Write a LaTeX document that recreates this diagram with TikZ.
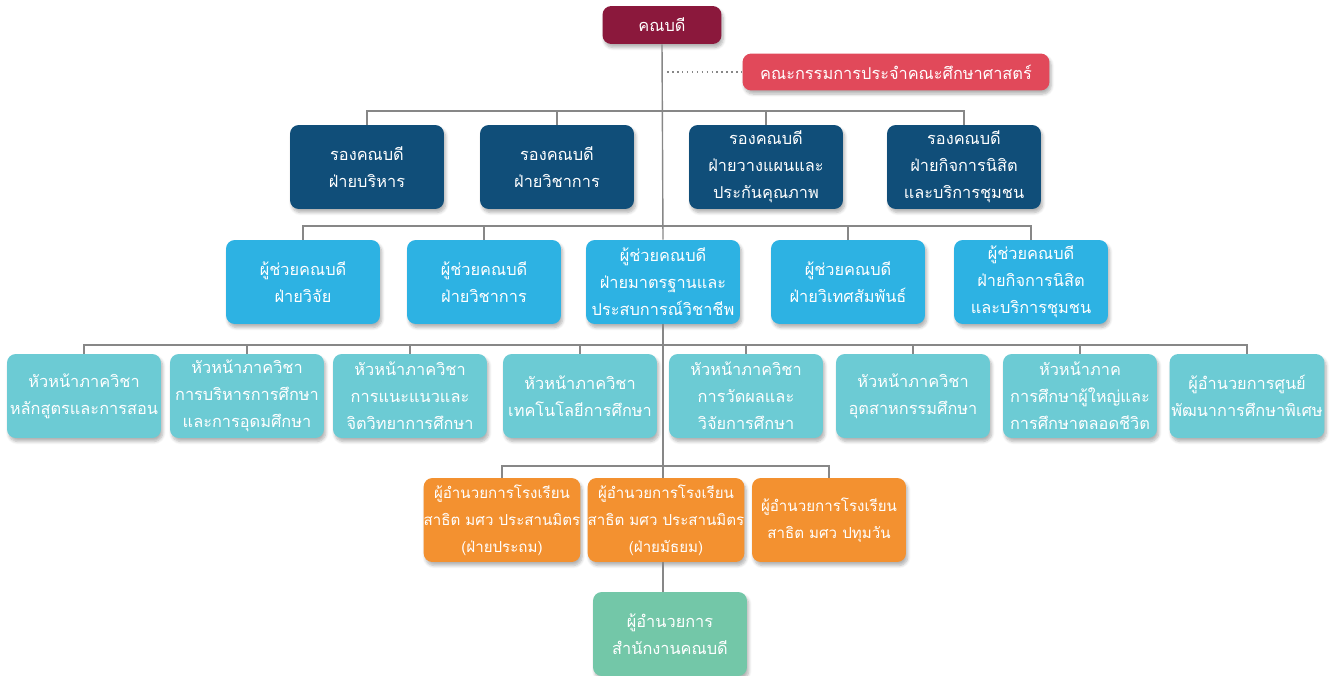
\documentclass[tikz,border=0pt]{standalone}
\usepackage{fontspec}
\newfontfamily\thaifont[Script=Thai]{Loma}
\usepackage{tikz}
\usetikzlibrary{positioning, shadows.blur}
\definecolor{deancol}{RGB}{139,24,60}
\definecolor{boardcol}{RGB}{225,73,90}
\definecolor{vicecol}{RGB}{16,78,121}
\definecolor{asstcol}{RGB}{45,178,227}
\definecolor{headcol}{RGB}{108,203,212}
\definecolor{schoolcol}{RGB}{243,145,48}
\definecolor{officecol}{RGB}{115,199,168}
\definecolor{linecol}{RGB}{135,135,135}

\begin{document}
\begin{tikzpicture}[x=0.02cm, y=-0.02cm,
    box/.style={rectangle, rounded corners=5pt, minimum width=3.08cm, minimum height=1.68cm, inner sep=1pt, align=center, text=white, font=\thaifont\fontsize{9.3}{15.4}\selectfont, blur shadow={shadow xshift=1pt, shadow yshift=-2pt, shadow opacity=30, shadow blur steps=6}},
    schoolbox/.style={box, fill=schoolcol, inner sep=0pt, font=\thaifont\fontsize{8.6}{15.4}\selectfont},
    link/.style={draw=linecol, line width=0.8pt}
]
\useasboundingbox (0,0) rectangle (1339,676);

\coordinate (bus1) at (0,111);
\coordinate (bus2) at (0,226);
\coordinate (bus3) at (0,345);
\coordinate (bus4) at (0,466);

\node[box, fill=deancol, minimum width=2.38cm, minimum height=0.76cm](dean) at (662,25){คณบดี};
\node[box, fill=boardcol, minimum width=6.14cm, minimum height=0.74cm](board) at (896,72){คณะกรรมการประจำคณะศึกษาศาสตร์};

\node[box, fill=vicecol](vd1) at (367,167){รองคณบดี\\ฝ่ายบริหาร};
\node[box, fill=vicecol](vd2) at (557,167){รองคณบดี\\ฝ่ายวิชาการ};
\node[box, fill=vicecol](vd3) at (766,167){รองคณบดี\\ฝ่ายวางแผนและ\\ประกันคุณภาพ};
\node[box, fill=vicecol](vd4) at (964,167){รองคณบดี\\ฝ่ายกิจการนิสิต\\และบริการชุมชน};

\node[box, fill=asstcol](ad1) at (303,282){ผู้ช่วยคณบดี\\ฝ่ายวิจัย};
\node[box, fill=asstcol](ad2) at (484,282){ผู้ช่วยคณบดี\\ฝ่ายวิชาการ};
\node[box, fill=asstcol](ad3) at (663,282){ผู้ช่วยคณบดี\\ฝ่ายมาตรฐานและ\\ประสบการณ์วิชาชีพ};
\node[box, fill=asstcol](ad4) at (848,282){ผู้ช่วยคณบดี\\ฝ่ายวิเทศสัมพันธ์};
\node[box, fill=asstcol](ad5) at (1031,282){ผู้ช่วยคณบดี\\ฝ่ายกิจการนิสิต\\และบริการชุมชน};

\node[box, fill=headcol](hd1) at (84,396){หัวหน้าภาควิชา\\หลักสูตรและการสอน};
\node[box, fill=headcol](hd2) at (247,396){หัวหน้าภาควิชา\\การบริหารการศึกษา\\และการอุดมศึกษา};
\node[box, fill=headcol](hd3) at (410,396){หัวหน้าภาควิชา\\การแนะแนวและ\\จิตวิทยาการศึกษา};
\node[box, fill=headcol](hd4) at (580,396){หัวหน้าภาควิชา\\เทคโนโลยีการศึกษา};
\node[box, fill=headcol](hd5) at (746,396){หัวหน้าภาควิชา\\การวัดผลและ\\วิจัยการศึกษา};
\node[box, fill=headcol](hd6) at (913,396){หัวหน้าภาควิชา\\อุตสาหกรรมศึกษา};
\node[box, fill=headcol](hd7) at (1080,396){หัวหน้าภาค\\การศึกษาผู้ใหญ่และ\\การศึกษาตลอดชีวิต};
\node[box, fill=headcol](hd8) at (1247,396){ผู้อำนวยการศูนย์\\พัฒนาการศึกษาพิเศษ};

\node[schoolbox](sd1) at (502,520){ผู้อำนวยการโรงเรียน\\สาธิต มศว ประสานมิตร\\(ฝ่ายประถม)};
\node[schoolbox](sd2) at (666,520){ผู้อำนวยการโรงเรียน\\สาธิต มศว ประสานมิตร\\(ฝ่ายมัธยม)};
\node[schoolbox](sd3) at (829,520){ผู้อำนวยการโรงเรียน\\สาธิต มศว ปทุมวัน};

\node[box, fill=officecol](office) at (670,634){ผู้อำนวยการ\\สำนักงานคณบดี};

\draw[link] (dean.south) -- (ad3.north);
\draw[link] (ad3.south) -- (ad3.south |- sd2.north);
\draw[link] (ad3.south |- sd2.south) -- (ad3.south |- office.north);
\draw[link, dotted] ([xshift=3pt]dean.south |- board.west) -- (board.west);

\draw[link] (vd1.north) -- (vd1.north |- bus1) -- (vd4.north |- bus1) -- (vd4.north);
\draw[link] (vd2.north) -- (vd2.north |- bus1);
\draw[link] (vd3.north) -- (vd3.north |- bus1);

\draw[link] (ad1.north) -- (ad1.north |- bus2) -- (ad5.north |- bus2) -- (ad5.north);
\draw[link] (ad2.north) -- (ad2.north |- bus2);
\draw[link] (ad4.north) -- (ad4.north |- bus2);

\draw[link] (hd1.north) -- (hd1.north |- bus3) -- (hd8.north |- bus3) -- (hd8.north);
\foreach \i in {2,...,7}
    \draw[link] (hd\i.north) -- (hd\i.north |- bus3);

\draw[link] (sd1.north) -- (sd1.north |- bus4) -- (sd3.north |- bus4) -- (sd3.north);
\end{tikzpicture}
\end{document}
